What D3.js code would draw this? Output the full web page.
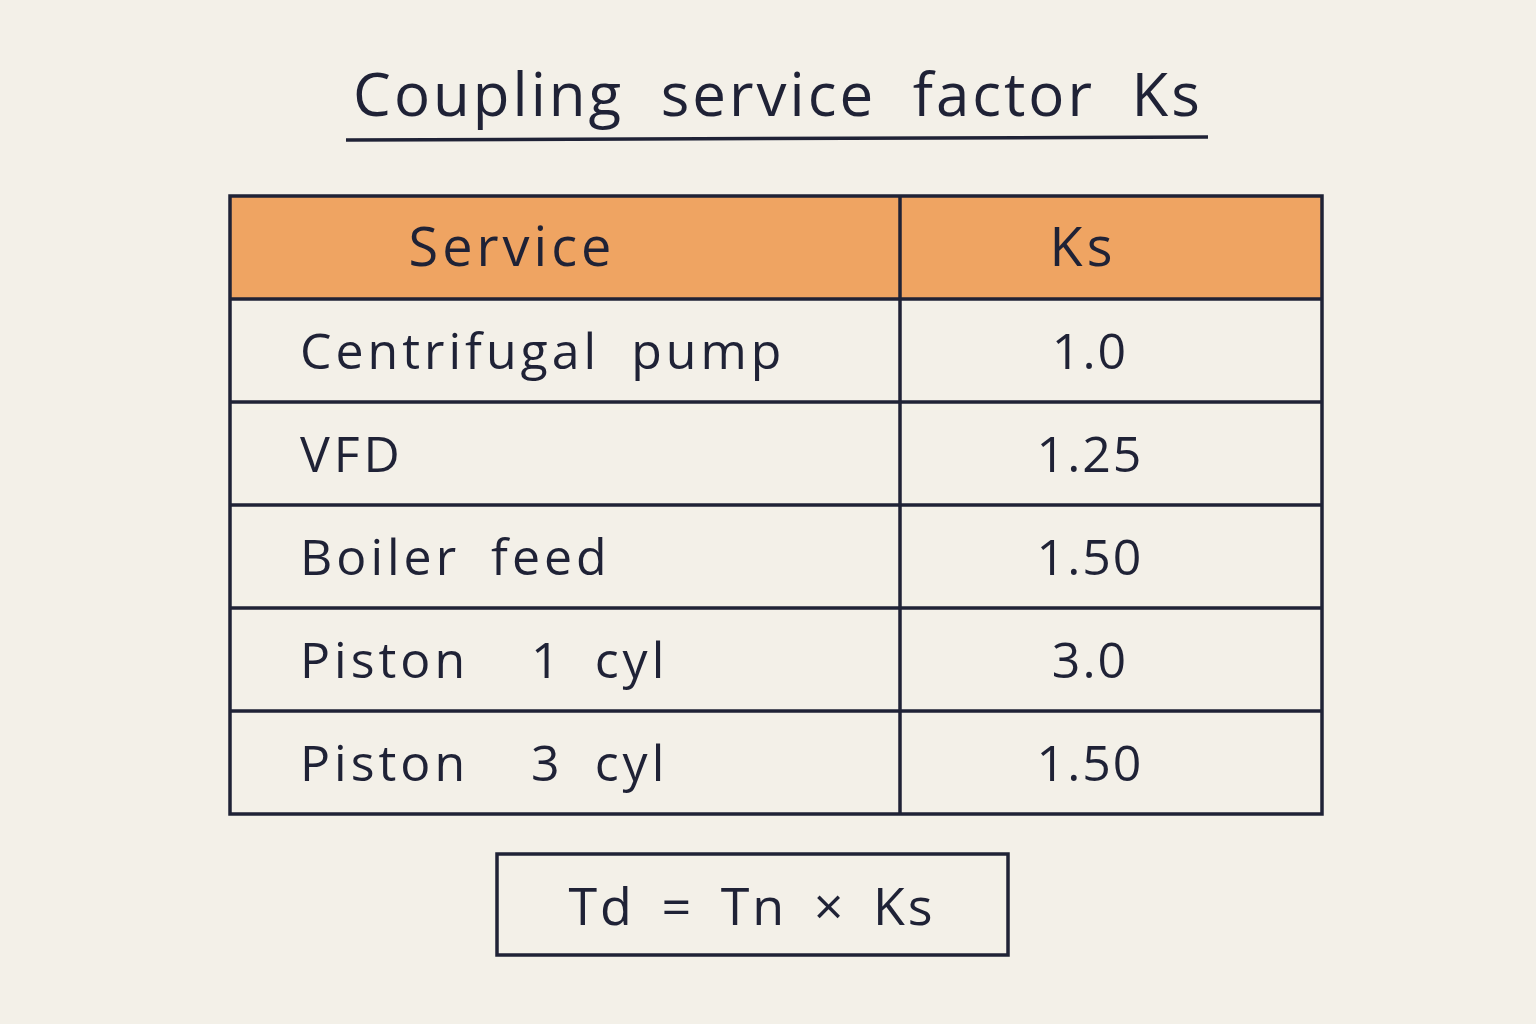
<!DOCTYPE html>
<html>
<head>
<meta charset="utf-8">
<script src="https://cdn.jsdelivr.net/npm/d3@7"></script>
<style>
  body { margin: 0; background: #f3f0e8; }
</style>
</head>
<body>
<div id="chart"></div>
<script>
var width = 1536, height = 1024;
var ink = "#1f2236";

var title = "Coupling service factor Ks";
var headers = ["Service", "Ks"];
var services = ["Centrifugal pump", "VFD", "Boiler feed", "Piston  1 cyl", "Piston  3 cyl"];
var ksValues = ["1.0", "1.25", "1.50", "3.0", "1.50"];
var formula = "Td = Tn \u00d7 Ks";

var svg = d3.select("#chart").append("svg")
    .attr("width", width)
    .attr("height", height);

svg.append("rect").attr("width", width).attr("height", height).attr("fill", "#f3f0e8");

// title + underline
svg.append("text")
    .attr("x", 778).attr("y", 116)
    .attr("text-anchor", "middle")
    .attr("font-family", "'Open Sans', sans-serif")
    .attr("font-size", 60)
    .attr("letter-spacing", 3)
    .attr("word-spacing", 18)
    .attr("fill", ink)
    .text(title);
svg.append("line")
    .attr("x1", 346).attr("x2", 1208).attr("y1", 140).attr("y2", 137)
    .attr("stroke", ink).attr("stroke-width", 3.5);

// table
var left = 230, right = 1322, divX = 900;
var rows = ["header"].concat(services);
var y = d3.scaleBand().domain(d3.range(rows.length)).range([196, 814]);

svg.append("rect")
    .attr("x", left).attr("y", y(0))
    .attr("width", right - left).attr("height", y.bandwidth())
    .attr("fill", "#efa462");

var g = svg.append("g")
    .attr("font-family", "'Open Sans', sans-serif")
    .attr("fill", ink);

// header texts
g.append("text").attr("x", 512).attr("y", y(0) + y.bandwidth() / 2 + 18)
    .attr("text-anchor", "middle").attr("font-size", 54).attr("letter-spacing", 4).text(headers[0]);
g.append("text").attr("x", 1083).attr("y", y(0) + y.bandwidth() / 2 + 18)
    .attr("text-anchor", "middle").attr("font-size", 54).attr("letter-spacing", 4).text(headers[1]);

g.selectAll(".svc").data(services).enter().append("text")
    .attr("class", "svc")
    .attr("x", 300)
    .attr("y", function(d, i) { return y(i + 1) + y.bandwidth() / 2 + 18; })
    .attr("font-size", 50).attr("letter-spacing", 4)
    .attr("word-spacing", 14)
    .style("white-space", "pre")
    .text(function(d) { return d; });

g.selectAll(".ks").data(ksValues).enter().append("text")
    .attr("class", "ks")
    .attr("x", 1090)
    .attr("y", function(d, i) { return y(i + 1) + y.bandwidth() / 2 + 18; })
    .attr("text-anchor", "middle")
    .attr("font-size", 50).attr("letter-spacing", 2)
    .text(function(d) { return d; });

// grid lines
var lines = svg.append("g").attr("stroke", ink).attr("stroke-width", 3.5).attr("fill", "none");
lines.append("rect").attr("x", left).attr("y", y(0))
    .attr("width", right - left).attr("height", y.range()[1] - y(0));
lines.selectAll(".h").data(d3.range(1, rows.length)).enter().append("line")
    .attr("x1", left).attr("x2", right)
    .attr("y1", function(d) { return y(d); }).attr("y2", function(d) { return y(d); });
lines.append("line").attr("x1", divX).attr("x2", divX).attr("y1", y(0)).attr("y2", y.range()[1]);

// formula box
svg.append("rect").attr("x", 497).attr("y", 854).attr("width", 511).attr("height", 101)
    .attr("fill", "none").attr("stroke", ink).attr("stroke-width", 3.5);
svg.append("text").attr("x", 752).attr("y", 925)
    .attr("text-anchor", "middle")
    .attr("font-family", "'Open Sans', sans-serif")
    .attr("font-size", 52).attr("letter-spacing", 3)
    .attr("word-spacing", 10)
    .attr("fill", ink)
    .text(formula);
</script>
</body>
</html>
